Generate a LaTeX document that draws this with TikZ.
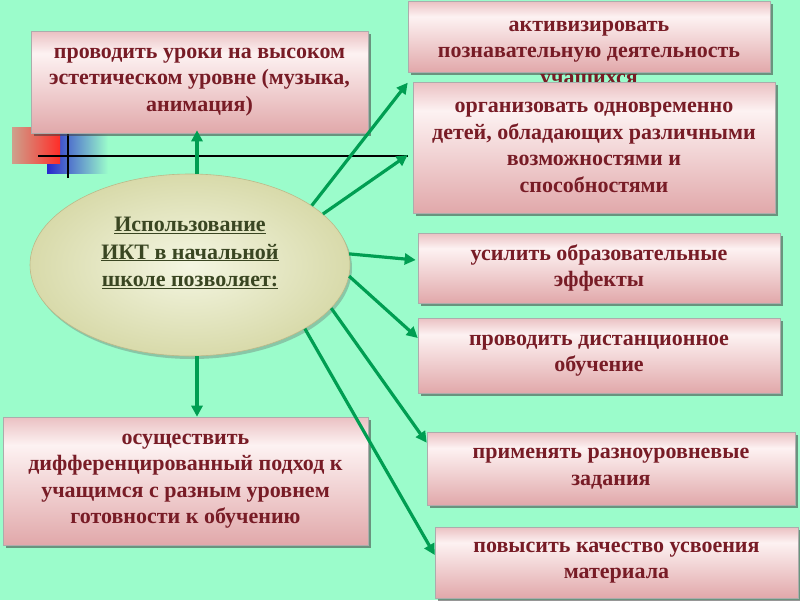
\documentclass[tikz,border=0pt]{standalone}
\usepackage{fontspec}
\setmainfont{Liberation Serif}
\usetikzlibrary{shapes.geometric,arrows.meta,shadows}
\definecolor{bgmint}{RGB}{155,252,203}
\definecolor{bxbot}{RGB}{225,168,170}
\definecolor{bxmid}{RGB}{253,242,242}
\definecolor{bxtop}{RGB}{234,192,194}
\definecolor{maroon}{RGB}{120,28,38}
\definecolor{olivetxt}{RGB}{58,70,34}
\definecolor{arrgreen}{RGB}{0,158,82}
\definecolor{ellin}{RGB}{244,246,226}
\definecolor{ellout}{RGB}{216,218,170}
\definecolor{decred}{RGB}{255,45,40}
\definecolor{decbrown}{RGB}{206,160,140}
\definecolor{decblue}{RGB}{40,40,205}
\pgfdeclareverticalshading{boxshade}{100bp}{color(0bp)=(bxbot); color(25bp)=(bxbot); color(64bp)=(bxmid); color(75bp)=(bxtop); color(100bp)=(bxtop)}
\tikzset{
  infobox/.style={rectangle, draw=gray!65, line width=0.6pt, shading=boxshade,
    drop shadow={shadow xshift=3pt, shadow yshift=-3pt, opacity=0.55, fill=black!75},
    inner sep=0pt, text=maroon, align=center, font=\bfseries\fontsize{22}{26.5}\selectfont},
  boxtext/.style={inner sep=0pt, text=maroon, align=center, font=\bfseries\fontsize{22}{26.5}\selectfont},
  arr/.style={draw=arrgreen, line width=3.2pt, -{Triangle[length=11pt,width=11pt]}},
  blk/.style={draw=black, line width=2pt}
}
\begin{document}
\begin{tikzpicture}[x=1pt,y=-1pt]
\useasboundingbox (0,0) rectangle (800,600);
\fill[bgmint] (0,0) rectangle (800,600);
% decoration
\shade[left color=decblue, middle color=decblue!85!bgmint, right color=bgmint] (47,133) rectangle (108,173);
\shade[left color=decbrown, right color=decred] (12,127) rectangle (60,163);
\draw[blk] (38,156) -- (408,156);
\draw[blk] (68,133) -- (68,178);
% ellipse
\node[ellipse, minimum width=320pt, minimum height=182pt, inner sep=0pt,
  draw=gray!55!olive!60, line width=0.6pt, inner color=ellin, outer color=ellout,
  drop shadow={shadow xshift=2pt, shadow yshift=-3pt, opacity=0.35, fill=black!60}]
  (ell) at (190,265) {};
\node[inner sep=0pt, text=olivetxt, align=center, font=\bfseries\fontsize{22}{27.5}\selectfont]
  (etext) at (190,253) {\underline{Использование}\\\underline{ИКТ в начальной}\\\underline{школе позволяет:}};
% boxes
\node[infobox, minimum width=337pt, minimum height=102pt] (b1) at (199.5,82)
  {проводить уроки на высоком\\эстетическом уровне (музыка,\\анимация)};
\node[infobox, minimum width=362pt, minimum height=71pt] (b2) at (589,36.5) {};
\node[boxtext] (t2) at (589,55) {активизировать\\познавательную деятельность\\учащихся};
\node[infobox, minimum width=362pt, minimum height=131pt] (b3) at (594,147.5)
  {организовать одновременно\\детей, обладающих различными\\возможностями и\\способностями};
\node[infobox, minimum width=362pt, minimum height=70pt] (b4) at (599,268)
  {усилить образовательные\\эффекты};
\node[infobox, minimum width=362pt, minimum height=75pt] (b5) at (599,355.5)
  {проводить дистанционное\\обучение};
\node[infobox, minimum width=368pt, minimum height=73pt] (b6) at (611,468.5)
  {применять разноуровневые\\задания};
\node[infobox, minimum width=363pt, minimum height=71pt] (b7) at (616.5,562.5)
  {повысить качество усвоения\\материала};
\node[infobox, minimum width=365pt, minimum height=128pt] (b8) at (185.5,481)
  {осуществить\\дифференцированный подход к\\учащимся с разным уровнем\\готовности к обучению};
% arrows
\draw[arr] ([xshift=7pt]ell.north) -- ([xshift=-2.5pt,yshift=3pt]b1.south);
\draw[arr] ([xshift=7pt]ell.south) -- ([xshift=11.5pt]b8.north);
\draw[arr] (ell.26) -- ([xshift=-5pt,yshift=-1pt]b3.north west);
\draw[arr] (ell.21.5) -- ([xshift=-5pt,yshift=-7.5pt]b3.west);
\draw[arr] (ell.4.3) -- ([xshift=-2pt,yshift=8pt]b4.west);
\draw[arr] (ell.-4) -- ([yshift=17.5pt]b5.west);
\draw[arr] (ell.-17) -- ([yshift=-11pt]b6.north west);
\draw[arr] (ell.-29) -- ([yshift=7.5pt]b7.west);
\end{tikzpicture}
\end{document}
